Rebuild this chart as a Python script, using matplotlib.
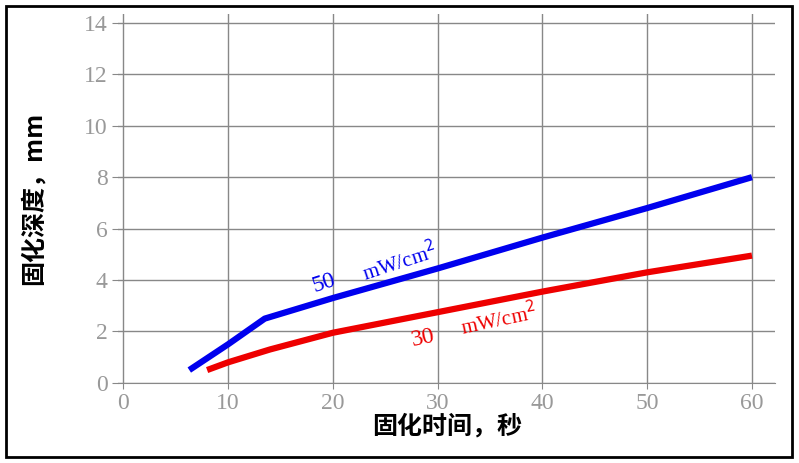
import matplotlib
matplotlib.use("Agg")
import matplotlib.pyplot as plt
from matplotlib.patches import Rectangle

blue_x = [6.3, 10, 13.5, 20, 30, 40, 50, 60]
blue_y = [0.5, 1.5, 2.5, 3.3, 4.45, 5.65, 6.8, 8.0]
red_x = [8, 10, 14, 20, 30, 40, 50, 60]
red_y = [0.5, 0.8, 1.3, 1.95, 2.75, 3.55, 4.3, 4.95]
xticks = [0, 10, 20, 30, 40, 50, 60]
yticks = [0, 2, 4, 6, 8, 10, 12, 14]

fig = plt.figure(figsize=(7.99, 4.63), dpi=100)
fig.patches.append(Rectangle((0.007, 0.013), 0.984, 0.975, transform=fig.transFigure,
                             fill=False, edgecolor='black', linewidth=2))
ax = fig.add_axes([0.148, 0.173, 0.822, 0.797])
ax.set_xlim(-0.48, 62.2)
ax.set_ylim(0, 14.35)
ax.set_xticks(xticks)
ax.set_yticks(yticks)
ax.grid(True, color='#888888', linewidth=1)
for s in ax.spines.values():
    s.set_visible(False)
ax.spines['bottom'].set_visible(True)
ax.spines['bottom'].set_color('#888888')
ax.tick_params(axis='both', colors='#888888', labelcolor='#999999', labelsize=17, length=4)
for lab in ax.get_xticklabels() + ax.get_yticklabels():
    lab.set_family('Liberation Serif')

ax.plot(blue_x, blue_y, color='#0000ee', linewidth=4.5, solid_capstyle='butt')
ax.plot(red_x, red_y, color='#ee0000', linewidth=4.5, solid_capstyle='butt')

ax.text(17.8, 3.55, '50', color='#0000ee', fontsize=17, family='Liberation Serif', rotation=18)
ax.text(22.5, 3.95, 'mW/cm$^2$', color='#0000ee', fontsize=15, family='Liberation Serif', rotation=18)
ax.text(27.3, 1.45, '30', color='#ee0000', fontsize=17, family='Liberation Serif', rotation=12)
ax.text(32, 1.85, 'mW/cm$^2$', color='#ee0000', fontsize=15, family='Liberation Serif', rotation=12)

ax.set_xlabel('固化时间，秒', fontsize=18, fontweight='bold', family=['Noto Sans CJK SC', 'DejaVu Sans'], labelpad=0)
ax.set_ylabel('固化深度，mm', fontsize=18, fontweight='bold', family=['Noto Sans CJK SC', 'DejaVu Sans'], labelpad=28)

fig.savefig('out.png', dpi=100)
